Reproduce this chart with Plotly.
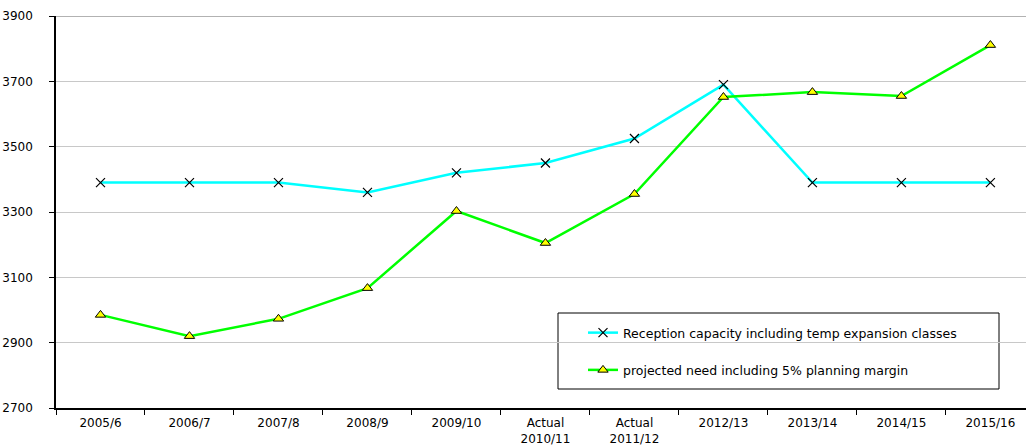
import plotly.graph_objects as go

categories = ["2005/6", "2006/7", "2007/8", "2008/9", "2009/10", "Actual<br>2010/11",
              "Actual<br>2011/12", "2012/13", "2013/14", "2014/15", "2015/16"]
capacity = [3390, 3390, 3390, 3360, 3420, 3450, 3525, 3690, 3390, 3390, 3390]
need = [2985, 2920, 2973, 3067, 3303, 3205, 3355, 3652, 3667, 3655, 3811]
y_ticks = [2700, 2900, 3100, 3300, 3500, 3700, 3900]

FONT = "DejaVu Sans, Arial, sans-serif"

fig = go.Figure()
fig.add_trace(go.Scatter(
    x=categories, y=capacity, mode="lines+markers",
    name="Reception capacity including temp expansion classes",
    line=dict(color="#00ffff", width=2.5),
    marker=dict(symbol="x-thin", size=9, line=dict(color="black", width=1.2), color="black"),
    legendgroup="a",
))
fig.add_trace(go.Scatter(
    x=categories, y=need, mode="lines+markers",
    name="projected need including 5% planning margin",
    line=dict(color="#00ff00", width=2.5),
    marker=dict(symbol="triangle-up", size=9, color="#ffff00", line=dict(color="black", width=1)),
    legendgroup="b",
))

fig.update_layout(
    width=1026, height=445,
    margin=dict(l=56, r=0, t=16, b=37),
    paper_bgcolor="white", plot_bgcolor="white",
    font=dict(family=FONT, size=12, color="black"),
    showlegend=True,
    legend=dict(
        x=(583 - 56) / 970, y=(408 - 318) / 392, xanchor="left", yanchor="top",
        bgcolor="rgba(0,0,0,0)", borderwidth=0,
        font=dict(family=FONT, size=12.5, color="black"),
        tracegroupgap=18,
    ),
    shapes=[
        dict(type="rect", xref="paper", yref="paper",
             x0=(558 - 56) / 970, x1=(999 - 56) / 970,
             y0=(408 - 389) / 392, y1=(408 - 313) / 392,
             line=dict(color="black", width=1), fillcolor="white", layer="below"),
        dict(type="line", xref="paper", yref="y", x0=0, x1=1, y0=3900, y1=3900,
             line=dict(color="#999999", width=1.5)),
    ],
)
fig.update_xaxes(
    type="category", range=[-0.5, 10.4],
    showline=True, linecolor="black", linewidth=1.5,
    ticks="outside", tickson="boundaries", ticklen=5, tickcolor="black",
    showgrid=False, tickfont=dict(size=12), ticklabelstandoff=3,
)
fig.update_yaxes(
    range=[2700, 3900], tickvals=y_ticks,
    showline=True, linecolor="black", linewidth=1.5,
    ticks="outside", ticklen=5, tickcolor="black",
    showgrid=True, gridcolor="#c8c8c8", gridwidth=1,
    zeroline=False, tickfont=dict(size=12), ticklabelstandoff=14,
)

fig.write_html("out.html", config={"displayModeBar": False},
               post_script="document.body.style.margin='0';")
